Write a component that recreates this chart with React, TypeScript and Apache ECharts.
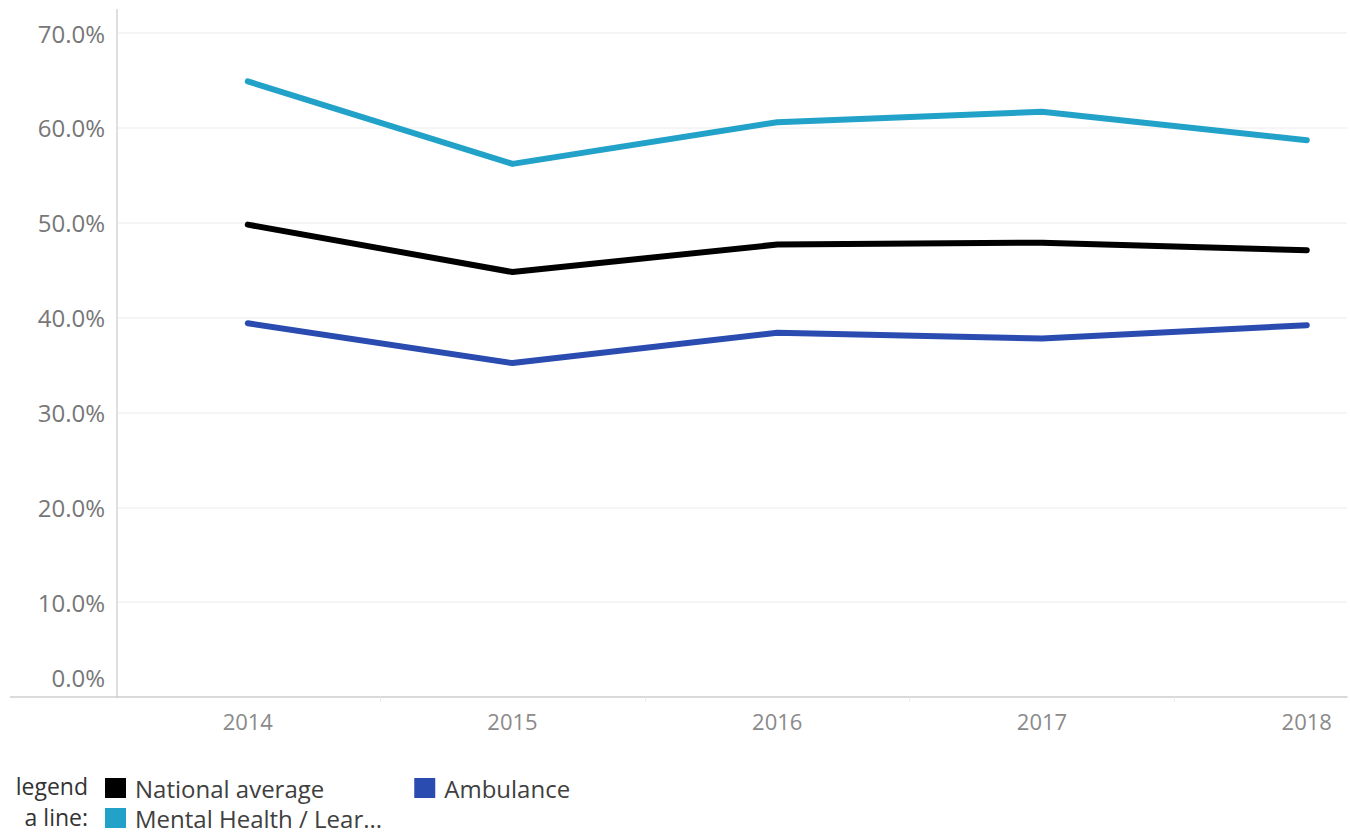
import React, { useEffect, useRef } from "react";
import * as echarts from "echarts";

const years = [2014, 2015, 2016, 2017, 2018];
const nationalAverage = [49.8, 44.8, 47.7, 47.9, 47.1];
const mentalHealth = [64.9, 56.2, 60.6, 61.7, 58.7];
const ambulance = [39.4, 35.2, 38.4, 37.8, 39.2];
const seriesNames = ["National average", "Ambulance", "Mental Health / Learning Disability"];
const seriesColors = ["#000000", "#2a4bb0", "#22a2c8"];
const legendSideText = ["legend", "a line:"];

const FONT = "'Open Sans', 'Noto Sans', sans-serif";

export default function App() {
  const ref = useRef<HTMLDivElement>(null);

  useEffect(() => {
    document.body.style.margin = "0";
    if (!ref.current) return;
    const chart = echarts.init(ref.current, undefined, { renderer: "svg" });

    const gridLeft = 117;
    const gridTop = 33;
    const gridBottom = 137;
    const axisBottomY = 834 - gridBottom;

    const toPairs = (vals: number[]) => years.map((y, i) => [y, vals[i]]);
    const allValues = [nationalAverage, ambulance, mentalHealth];

    const legendText = {
      color: "#404040",
      fontSize: 24,
      lineHeight: 24,
      fontFamily: FONT,
      padding: [0, 0, 0, 4],
    };

    chart.setOption({
      animation: false,
      backgroundColor: "#ffffff",
      textStyle: { fontFamily: FONT },
      grid: { left: gridLeft, right: 3, top: gridTop, bottom: gridBottom, containLabel: false },
      xAxis: {
        type: "value",
        min: 2013.506,
        max: 2018.152,
        axisLine: { show: true, lineStyle: { color: "#cfcfcf", width: 1.5 } },
        splitLine: { show: false },
        axisTick: {
          show: true,
          customValues: [2014.5, 2015.5, 2016.5, 2017.5],
          length: 5,
          lineStyle: { color: "#ececec" },
        },
        axisLabel: {
          customValues: years,
          formatter: (v: number) => String(Math.round(v)),
          color: "#8a8a8a",
          fontSize: 22,
          fontFamily: FONT,
          margin: 13,
        },
      },
      yAxis: {
        type: "value",
        min: 0,
        max: 70,
        interval: 10,
        axisLine: { show: true, lineStyle: { color: "#d4d4d4", width: 1.5 } },
        axisTick: { show: false },
        splitLine: { show: true, lineStyle: { color: "#f2f2f2", width: 1.5 } },
        axisLabel: {
          color: "#777777",
          fontSize: 24,
          fontFamily: FONT,
          margin: 12,
          formatter: (v: number) => (v === 0 ? "{z|0.0%}" : v.toFixed(1) + "%"),
          rich: {
            z: { padding: [0, 0, 40, 0], fontSize: 24, color: "#777777", fontFamily: FONT },
          },
        },
      },
      legend: [
        {
          data: [seriesNames[0], seriesNames[1]],
          left: 105,
          top: 776,
          padding: 0,
          orient: "horizontal",
          itemWidth: 21,
          itemHeight: 20,
          itemGap: 90,
          icon: "rect",
          textStyle: legendText,
        },
        {
          data: [seriesNames[2]],
          left: 105,
          top: 806,
          padding: 0,
          orient: "horizontal",
          itemWidth: 21,
          itemHeight: 20,
          icon: "rect",
          formatter: (name: string) => name.slice(0, 20) + "...",
          textStyle: legendText,
        },
      ],
      series: seriesNames.map((name, i) => ({
        name,
        type: "line",
        data: toPairs(allValues[i]),
        symbol: "none",
        itemStyle: { color: seriesColors[i] },
        lineStyle: { color: seriesColors[i], width: 6, cap: "round", join: "round" },
      })),
      graphic: [
        {
          type: "line",
          shape: { x1: 10, y1: axisBottomY, x2: gridLeft, y2: axisBottomY },
          style: { stroke: "#cfcfcf", lineWidth: 1.5 },
        },
        {
          type: "line",
          shape: { x1: gridLeft, y1: 9, x2: gridLeft, y2: gridTop },
          style: { stroke: "#d4d4d4", lineWidth: 1.5 },
        },
        {
          type: "text",
          right: 1350 - 88,
          top: 774,
          style: { text: legendSideText[0], fill: "#333333", fontSize: 23, lineHeight: 24, fontFamily: FONT },
        },
        {
          type: "text",
          right: 1350 - 88,
          top: 805,
          style: { text: legendSideText[1], fill: "#333333", fontSize: 23, lineHeight: 24, fontFamily: FONT },
        },
      ],
    });

    return () => chart.dispose();
  }, []);

  return <div ref={ref} style={{ width: 1350, height: 834 }} />;
}
